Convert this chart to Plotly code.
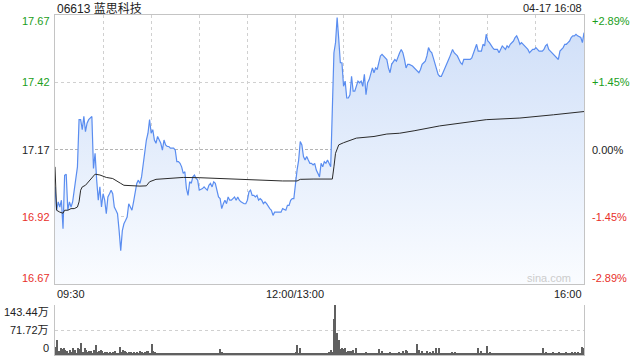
import plotly.graph_objects as go

# ---------------- data ----------------
stock_title = "06613 蓝思科技"
stamp = "04-17 16:08"
prev_close = 17.17

# trading minutes since 09:30 (12:00 and 13:00 share index 150; 16:00 = 330)
price_minutes = [
    0, 1, 2, 3, 4, 5, 6, 7, 8, 9, 10, 11, 12, 14, 15, 16, 17, 18, 19, 20,
    21, 22, 23, 24, 25, 26, 27, 28, 29, 30, 31, 32, 33, 34, 35, 36, 37, 38, 39, 40,
    41, 42, 43, 44, 45, 46, 47, 48, 49, 50, 51, 52, 53, 54, 55, 56, 57, 58, 59, 60,
    61, 62, 63, 64, 66, 67, 68, 69, 70, 71, 72, 73, 74, 75, 76, 77, 78, 79, 80, 81,
    82, 83, 84, 85, 86, 87, 88, 89, 90, 92, 93, 94, 95, 96, 97, 98, 99, 100, 101, 102,
    103, 104, 105, 106, 107, 108, 109, 110, 111, 112, 113, 114, 115, 116, 118, 119, 120, 121, 122, 123,
    124, 125, 126, 127, 128, 129, 130, 131, 132, 133, 134, 135, 136, 137, 138, 139, 140, 141, 142, 144,
    145, 146, 147, 148, 149, 150, 151, 152, 153, 154, 155, 156, 157, 158, 159, 160, 161, 162, 163, 164,
    165, 166, 167, 168, 169, 170, 172, 173, 174, 175, 176, 177, 178, 179, 180, 181, 182, 183, 184, 185,
    186, 187, 188, 189, 190, 191, 192, 193, 194, 195, 196, 198, 199, 200, 201, 202, 203, 204, 205, 206,
    207, 208, 209, 210, 211, 212, 213, 214, 215, 216, 217, 218, 219, 220, 221, 223, 224, 225, 226, 227,
    228, 229, 230, 231, 232, 233, 234, 235, 236, 237, 238, 239, 240, 241, 242, 244, 246, 248, 249, 251,
    252, 253, 254, 255, 257, 259, 260, 261, 262, 263, 264, 266, 267, 268, 269, 270, 271, 272, 273, 274,
    276, 277, 278, 279, 280, 281, 282, 283, 284, 285, 286, 287, 288, 289, 290, 291, 292, 293, 294, 295,
    296, 297, 298, 299, 300, 302, 303, 304, 305, 306, 307, 308, 309, 310, 311, 312, 313, 314, 315, 316,
    317, 318, 319, 320, 321, 322, 323, 324, 325, 326, 328, 329, 330,
]
price_values = [
    17.032, 16.946, 16.977, 16.958, 16.983, 16.878, 17.075, 17.079, 16.946, 16.977,
    16.958, 16.977, 17.020, 17.106, 17.280, 17.280, 17.243, 17.292, 17.236, 17.267,
    17.280, 17.286, 17.292, 17.100, 17.156, 17.057, 16.983, 17.032, 16.958, 17.007,
    16.983, 16.933, 16.995, 17.007, 17.020, 17.007, 16.958, 16.946, 16.933, 16.871,
    16.797, 16.871, 16.896, 16.908, 16.921, 16.970, 16.958, 16.946, 16.977, 17.007,
    17.045, 17.057, 17.045, 17.069, 17.119, 17.156, 17.205, 17.230, 17.280, 17.230,
    17.243, 17.205, 17.193, 17.218, 17.193, 17.168, 17.205, 17.187, 17.181, 17.181,
    17.175, 17.175, 17.175, 17.168, 17.125, 17.125, 17.119, 17.106, 17.082, 17.088,
    17.026, 17.001, 17.051, 17.045, 17.069, 17.076, 17.063, 17.057, 17.020, 17.026,
    17.032, 17.026, 17.020, 17.038, 17.045, 17.032, 17.051, 17.045, 17.020, 16.995,
    16.989, 16.952, 16.970, 16.983, 16.970, 16.995, 16.983, 16.983, 16.989, 16.995,
    16.983, 16.995, 16.983, 16.977, 16.970, 16.970, 16.983, 17.014, 17.020, 17.001,
    17.001, 16.995, 17.001, 16.983, 16.989, 16.983, 16.970, 16.977, 16.970, 16.958,
    16.952, 16.946, 16.927, 16.939, 16.939, 16.939, 16.939, 16.939, 16.952, 16.946,
    16.964, 16.964, 16.983, 16.989, 16.989, 17.057, 17.094, 17.131, 17.199, 17.187,
    17.144, 17.131, 17.144, 17.131, 17.119, 17.119, 17.113, 17.119, 17.094, 17.082,
    17.069, 17.119, 17.106, 17.125, 17.119, 17.131, 17.106, 17.317, 17.527, 17.564,
    17.657, 17.577, 17.490, 17.490, 17.403, 17.422, 17.360, 17.360, 17.372, 17.440,
    17.385, 17.385, 17.403, 17.422, 17.416, 17.422, 17.403, 17.447, 17.372, 17.416,
    17.428, 17.471, 17.453, 17.471, 17.465, 17.490, 17.515, 17.521, 17.515, 17.508,
    17.502, 17.471, 17.453, 17.484, 17.496, 17.502, 17.496, 17.515, 17.527, 17.539,
    17.527, 17.502, 17.471, 17.484, 17.484, 17.478, 17.471, 17.465, 17.459, 17.453,
    17.465, 17.484, 17.490, 17.496, 17.515, 17.546, 17.533, 17.527, 17.508, 17.490,
    17.471, 17.447, 17.440, 17.440, 17.453, 17.478, 17.508, 17.539, 17.527, 17.515,
    17.502, 17.490, 17.484, 17.502, 17.502, 17.502, 17.508, 17.527, 17.546, 17.558,
    17.533, 17.533, 17.558, 17.552, 17.595, 17.570, 17.564, 17.552, 17.546, 17.539,
    17.539, 17.527, 17.539, 17.552, 17.546, 17.539, 17.552, 17.546, 17.558, 17.564,
    17.570, 17.583, 17.589, 17.576, 17.558, 17.564, 17.558, 17.552, 17.546, 17.539,
    17.527, 17.533, 17.539, 17.539, 17.546, 17.533, 17.533, 17.533, 17.539, 17.552,
    17.558, 17.539, 17.533, 17.527, 17.521, 17.515, 17.508, 17.502, 17.533, 17.539,
    17.546, 17.558, 17.558, 17.564, 17.570, 17.583, 17.589, 17.589, 17.595, 17.589,
    17.583, 17.564, 17.601,
]

avg_minutes = [
    0, 1, 3, 5, 6, 8, 10, 12, 14, 15, 16, 17, 19, 21, 23, 25, 28, 32, 36, 38,
    41, 43, 47, 53, 57, 59, 63, 74, 80, 90, 101, 122, 142, 151, 153, 161, 173, 174, 175, 177,
    180, 188, 199, 207, 215, 224, 232, 240, 269, 290, 311, 330,
]
avg_values = [
    17.106, 16.946, 16.939, 16.935, 16.946, 16.946, 16.952, 16.952, 16.958, 16.977,
    17.020, 17.032, 17.038, 17.051, 17.063, 17.079, 17.076, 17.067, 17.063, 17.057,
    17.045, 17.038, 17.036, 17.035, 17.036, 17.051, 17.060, 17.066, 17.067, 17.066,
    17.063, 17.057, 17.054, 17.054, 17.060, 17.061, 17.061, 17.106, 17.156, 17.187,
    17.195, 17.212, 17.218, 17.227, 17.230, 17.239, 17.249, 17.257, 17.280, 17.286,
    17.298, 17.310,
]

# volume per minute, in 万股 (minutes 0..330)
volume_values = [
    24, 43, 12, 19, 16, 19, 14, 12, 6, 14, 8, 19, 14, 7, 19, 16, 35, 9, 19, 14, 8, 12, 12, 6, 14, 29, 8, 12, 14, 12,
    6, 10, 9, 5, 9, 6, 9, 12, 5, 7, 24, 8, 14, 12, 9, 5, 9, 8, 4, 9, 5, 9, 4, 11, 9, 5, 9, 11, 12, 6,
    33, 12, 9, 7, 5, 4, 6, 3, 5, 4, 6, 3, 4, 5, 3, 6, 4, 3, 5, 4, 7, 5, 4, 6, 3, 5, 4, 3, 6, 4,
    5, 3, 4, 6, 3, 5, 4, 3, 5, 4, 6, 5, 4, 17, 9, 4, 5, 3, 4, 6, 3, 5, 4, 3, 5, 4, 6, 3, 4, 5,
    4, 3, 5, 4, 6, 3, 4, 5, 3, 4, 6, 4, 3, 5, 4, 3, 5, 4, 6, 3, 4, 5, 3, 4, 5, 4, 6, 5, 7, 6,
    8, 29, 6, 19, 7, 5, 4, 6, 3, 5, 4, 6, 3, 4, 5, 3, 4, 6, 5, 4, 6, 8, 14, 10, 102, 143.44, 64, 43, 16, 19,
    16, 19, 8, 12, 12, 12, 14, 6, 19, 5, 7, 4, 6, 5, 8, 4, 6, 5, 7, 4, 6, 5, 16, 6, 11, 4, 6, 5, 7, 10,
    5, 6, 4, 7, 5, 9, 6, 12, 7, 14, 11, 5, 6, 4, 7, 5, 33, 14, 6, 11, 5, 7, 12, 5, 9, 6, 12, 5, 19, 6,
    19, 6, 7, 4, 5, 6, 4, 5, 9, 6, 10, 4, 5, 6, 4, 5, 3, 6, 4, 5, 6, 4, 5, 3, 19, 7, 12, 5, 6, 4,
    27, 6, 9, 5, 4, 6, 3, 5, 4, 6, 3, 5, 4, 3, 5, 4, 6, 3, 4, 5, 3, 4, 6, 4, 5, 3, 4, 6, 5, 4,
    5, 4, 6, 5, 7, 19, 6, 9, 5, 6, 4, 9, 5, 6, 4, 8, 5, 6, 4, 8, 5, 6, 4, 9, 5, 10, 6, 10, 7, 22,
    19,
]

price_range = [16.674, 17.666]
price_ticks = [17.666, 17.418, 17.17, 16.922, 16.674]
price_labels = ["17.67", "17.42", "17.17", "16.92", "16.67"]
pct_labels = ["+2.89%", "+1.45%", "0.00%", "-1.45%", "-2.89%"]
vol_ticks = [143.44, 71.72, 0]
vol_labels = ["143.44万", "71.72万", "0"]
x_grid = [0, 30, 60, 90, 120, 150, 180, 210, 240, 270, 300, 330]
x_label_pos = [0, 150, 330]
x_labels = ["09:30", "12:00/13:00", "16:00"]

# ---------------- style ----------------
FONT = "Liberation Sans, Arial, Noto Sans CJK SC, sans-serif"
X0, X1 = 55 / 640, 584 / 640
P_DOM = [1 - 284 / 360, 1 - 15 / 360]
V_DOM = [1 - 355 / 360, 1 - 305 / 360]
GREEN, RED, BLACK = "#1a9e1a", "#e8302a", "#222222"
BORDER = "#c4c4c4"
GRID = "#d0d0d0"

fig = go.Figure()

fig.add_trace(go.Scatter(
    x=price_minutes, y=price_values, mode="lines",
    line=dict(color="#5a8df0", width=1.2),
    fill="tozeroy",
    fillgradient=dict(type="vertical",
                      colorscale=[[0, "rgb(250,252,255)"], [1, "rgb(206,222,248)"]],
                      start=price_range[0], stop=price_range[1]),
    xaxis="x", yaxis="y", hoverinfo="skip",
))
fig.add_trace(go.Scatter(
    x=avg_minutes, y=avg_values, mode="lines",
    line=dict(color="#2a2a2a", width=1),
    xaxis="x", yaxis="y", hoverinfo="skip",
))
fig.add_trace(go.Bar(
    x=list(range(len(volume_values))), y=volume_values,
    marker=dict(color="#606060", line=dict(width=0)), width=0.65,
    xaxis="x2", yaxis="y2", hoverinfo="skip",
))

# previous close reference line
fig.add_shape(type="line", xref="x", yref="y", x0=x_grid[0], x1=x_grid[-1],
              y0=prev_close, y1=prev_close,
              line=dict(color="#b4b4b4", width=1, dash="3px,2px"), layer="below")

fig.update_layout(
    width=640, height=360,
    margin=dict(l=0, r=0, t=0, b=0),
    paper_bgcolor="white", plot_bgcolor="white",
    showlegend=False, hovermode=False,
    font=dict(family=FONT, size=11, color=BLACK),
    bargap=0,
    xaxis=dict(domain=[X0, X1], range=[x_grid[0], x_grid[-1]], anchor="y",
               tickvals=x_grid, showticklabels=False, ticks="",
               showgrid=True, gridcolor=GRID, griddash="dot", gridwidth=1,
               showline=True, mirror=True, linecolor=BORDER, linewidth=1, zeroline=False),
    yaxis=dict(domain=P_DOM, range=price_range, anchor="x",
               tickvals=[price_ticks[1], price_ticks[3]], showticklabels=False, ticks="",
               showgrid=True, gridcolor=GRID, griddash="dot", gridwidth=1,
               showline=True, mirror=True, linecolor=BORDER, linewidth=1, zeroline=False),
    xaxis2=dict(domain=[X0, X1], range=[x_grid[0] - 0.5, x_grid[-1] + 0.5], anchor="y2",
                showticklabels=False, ticks="", showgrid=False,
                showline=True, mirror=False, linecolor=BORDER, linewidth=1, zeroline=False),
    yaxis2=dict(domain=V_DOM, range=[0, vol_ticks[0]], anchor="x2",
                tickvals=vol_ticks[:2], showticklabels=False, ticks="",
                showgrid=True, gridcolor=GRID, griddash="dot", gridwidth=1,
                showline=True, mirror=True, linecolor=BORDER, linewidth=1, zeroline=False),
)

ann = []
# title and timestamp
ann.append(dict(text=stock_title, xref="paper", yref="paper", x=X0, y=1, xanchor="left",
                yanchor="top", yshift=0, showarrow=False, font=dict(size=12, color=BLACK)))
ann.append(dict(text=stamp, xref="paper", yref="paper", x=X1, y=1, xanchor="right",
                yanchor="top", yshift=0, showarrow=False, font=dict(size=11, color=BLACK)))

# price axis labels (left) and percent labels (right)
lab_colors = [GREEN, GREEN, BLACK, RED, RED]
lab_shift = [-6, 0, 0, 0, 6]
for v, t, p, c, s in zip(price_ticks, price_labels, pct_labels, lab_colors, lab_shift):
    ann.append(dict(text=t, xref="paper", yref="y", x=X0, y=v, xanchor="right",
                    yanchor="middle", xshift=-3, yshift=s, showarrow=False,
                    font=dict(size=11, color=c)))
    ann.append(dict(text=p, xref="paper", yref="y", x=X1, y=v, xanchor="left",
                    yanchor="middle", xshift=6, yshift=s, showarrow=False,
                    font=dict(size=11, color=c)))

# volume labels
for v, t, s in zip(vol_ticks, vol_labels, [-7, 0, 7]):
    ann.append(dict(text=t, xref="paper", yref="y2", x=X0, y=v, xanchor="right",
                    yanchor="middle", xshift=-4, yshift=s, showarrow=False,
                    font=dict(size=11, color=BLACK)))

# time labels
for v, t, a in zip(x_label_pos, x_labels, ["left", "center", "right"]):
    ann.append(dict(text=t, xref="x", yref="paper", x=v, y=P_DOM[0], xanchor=a,
                    yanchor="top", yshift=-2, showarrow=False,
                    font=dict(size=11, color=BLACK)))

# watermark
ann.append(dict(text="sina.com", xref="paper", yref="paper", x=573 / 640, y=1 - 278 / 360,
                xanchor="right", yanchor="middle", showarrow=False,
                font=dict(size=11, color="#cccccc")))

fig.update_layout(annotations=ann)
fig.write_html("out.html")
